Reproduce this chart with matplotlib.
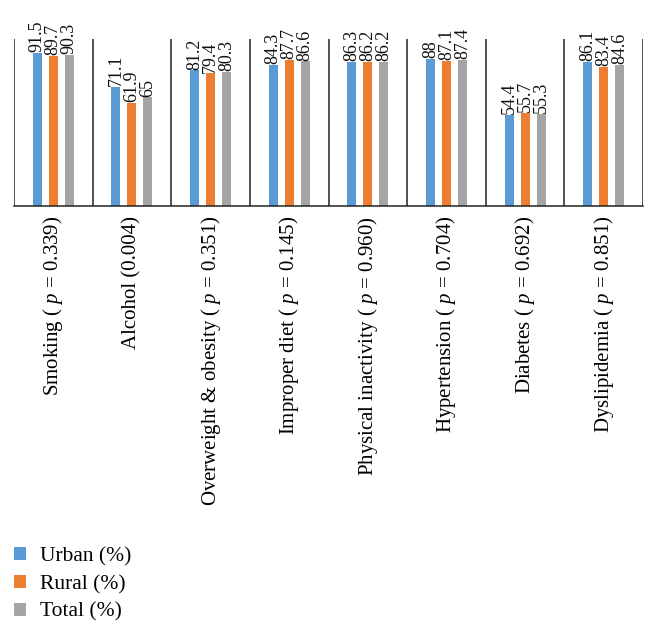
import numpy as np
import matplotlib
matplotlib.use("Agg")
import matplotlib.pyplot as plt
from matplotlib.patches import Patch

plt.rcParams["font.family"] = "Liberation Serif"
plt.rcParams["mathtext.fontset"] = "custom"
plt.rcParams["mathtext.rm"] = "Liberation Serif"
plt.rcParams["mathtext.it"] = "Liberation Serif:italic"

# veriler
categories = [
    "Smoking ( $p$ = 0.339)",
    "Alcohol (0.004)",
    "Overweight & obesity ( $p$ = 0.351)",
    "Improper diet ( $p$ = 0.145)",
    "Physical inactivity ( $p$ = 0.960)",
    "Hypertension ( $p$ = 0.704)",
    "Diabetes ( $p$ = 0.692)",
    "Dyslipidemia ( $p$ = 0.851)",
]
urban = [91.5, 71.1, 81.2, 84.3, 86.3, 88, 54.4, 86.1]
rural = [89.7, 61.9, 79.4, 87.7, 86.2, 87.1, 55.7, 83.4]
total = [90.3, 65, 80.3, 86.6, 86.2, 87.4, 55.3, 84.6]
series_names = ["Urban (%)", "Rural (%)", "Total (%)"]
colors = ["#5B9BD5", "#ED7D31", "#A5A5A5"]

fig = plt.figure(figsize=(6.58, 6.34), dpi=100)
ax = fig.add_axes([14 / 658, 1 - 206 / 634, (643 - 14) / 658, (206 - 39) / 634])

x = np.arange(len(categories))
offset = 0.204
width = 0.115
for k, (vals, col) in enumerate(zip([urban, rural, total], colors)):
    xs = x + (k - 1) * offset
    ax.bar(xs, vals, width=width, color=col, zorder=2)
    for xi, v in zip(xs, vals):
        ax.text(xi, v + 0.5, f"{v:g}", rotation=90, ha="center", va="bottom",
                fontsize=13, color="#111111")

# kategori ayırıcı çizgiler
ax.vlines(np.arange(len(categories) + 1) - 0.5, 0, 100, color="#222222", lw=1.1, zorder=3)

ax.set_xlim(-0.5, len(categories) - 0.5)
ax.set_ylim(0, 100)
ax.set_yticks([])
ax.set_xticks(x)
ax.set_xticklabels(categories, rotation=90, fontsize=15, va="top", ha="center")
ax.tick_params(axis="x", length=0, pad=7)
for s in ["top", "left", "right"]:
    ax.spines[s].set_visible(False)
ax.spines["bottom"].set_color("#222222")
ax.spines["bottom"].set_linewidth(1.1)

handles = [Patch(facecolor=c, edgecolor="none") for c in colors]
fig.legend(handles, series_names, loc="upper left",
           bbox_to_anchor=(14 / 658, 1 - 547 / 634), frameon=False,
           fontsize=15.5, handlelength=0.55, handleheight=0.55,
           handletextpad=0.65, labelspacing=0.4, borderpad=0, borderaxespad=0)

fig.savefig("out.png", dpi=100)
